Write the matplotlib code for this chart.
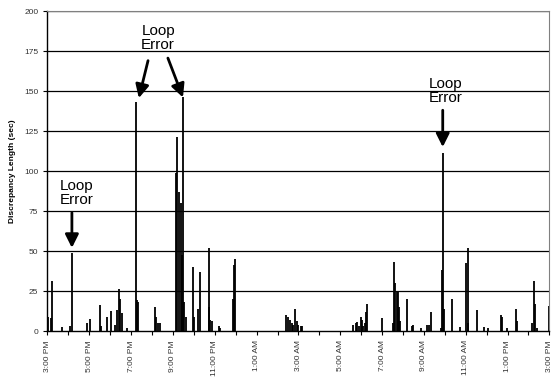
import matplotlib.pyplot as plt
import numpy as np

plt.rcParams['font.family'] = ['Liberation Sans', 'DejaVu Sans']

# time of each discrepancy, in hours after 3:00 PM, and its length in seconds
hours = [0.02, 0.19, 0.24, 0.68, 1.10, 1.16, 1.90, 2.05, 2.50, 2.56, 2.87, 3.03,
         3.23, 3.31, 3.40, 3.47, 3.55, 3.79, 4.24, 4.30, 4.34, 5.14, 5.19, 5.31,
         5.38, 6.13, 6.18, 6.30, 6.38, 6.43, 6.46, 6.55, 6.62, 6.97, 7.02, 7.21,
         7.28, 7.71, 7.74, 7.79, 7.86, 8.18, 8.25, 8.88, 8.93, 8.98,
         11.43, 11.51, 11.59, 11.67, 11.75, 11.86, 11.91, 11.99, 12.10, 12.18,
         14.62, 14.75, 14.81, 14.90, 14.97, 15.03, 15.10, 15.16, 15.22, 15.29,
         16.02, 16.53, 16.58, 16.64, 16.71, 16.77, 16.82, 16.86, 17.17, 17.41,
         17.49, 17.84, 18.16, 18.22, 18.35, 18.80, 18.87, 18.90, 18.97, 19.35,
         19.72, 20.02, 20.09, 20.13, 20.52, 20.87, 21.07, 21.68, 21.74, 21.98,
         22.38, 22.43, 23.17, 23.24, 23.30, 23.43, 23.98]
lengths = [8.5, 8, 31, 2.5, 3, 48.6, 5, 7.5, 16, 3, 9, 12.5,
           4, 13, 26, 20, 11, 2, 143, 19.4, 18, 15, 9, 5,
           5, 98.5, 121, 87, 80, 47.5, 146, 18, 9, 40, 9, 14,
           37, 52, 15, 7, 6, 3, 2, 20, 41, 45,
           10, 9, 7, 5, 4, 13.5, 6, 4, 3, 3,
           4, 5, 5.5, 3, 9, 7, 3, 5, 12, 17,
           8, 5, 43, 30, 24.5, 24.5, 15, 6, 20, 3,
           4, 2, 4, 4, 11.7, 2, 38, 111, 13.7, 20,
           2.5, 42.7, 5, 52, 13, 2.5, 2, 10, 8.5, 2,
           14, 6, 5, 31, 17, 2, 15.5]

tick_labels = ['3:00 PM', '5:00 PM', '7:00 PM', '9:00 PM', '11:00 PM', '1:00 AM',
               '3:00 AM', '5:00 AM', '7:00 AM', '9:00 AM', '11:00 AM', '1:00 PM',
               '3:00 PM']

fig = plt.figure(figsize=(5.58, 3.81), dpi=100)
ax = fig.add_axes([0.085, 0.131, 0.8996, 0.840])

# horizontal grid lines
for v in range(25, 201, 25):
    ax.axhline(v, color='black', lw=0.9, zorder=1)

ax.vlines(hours, 0, lengths, color='black', lw=1.3, zorder=2)

ax.set_xlim(0, 24)
ax.set_ylim(0, 200)
ax.set_yticks(range(0, 201, 25))
ax.set_xticks(np.arange(0, 25, 2))
ax.set_xticks(np.arange(1, 24, 2), minor=True)
ax.set_xticklabels(tick_labels, rotation=90, fontsize=6, color='#333333')
ax.tick_params(axis='y', labelsize=6, length=3, width=0.8, labelcolor='#333333')
ax.tick_params(axis='x', which='both', length=3, width=0.8)
ax.set_ylabel('Discrepancy Length (sec)', fontsize=6, fontweight='bold', labelpad=6)

for side in ['top', 'right']:
    ax.spines[side].set_color('#808080')
ax.spines['left'].set_linewidth(1.0)
ax.spines['bottom'].set_linewidth(1.0)

# loop error annotations
arrow = dict(arrowstyle='-|>', color='black', lw=2, mutation_scale=20, shrinkA=0, shrinkB=0)
ax.text(5.29, 183, 'Loop\nError', ha='center', va='center', fontsize=11, linespacing=1.0)
ax.annotate('', xy=(4.37, 145.6), xytext=(4.81, 169), arrowprops=arrow)
ax.annotate('', xy=(6.48, 146), xytext=(5.76, 170.6), arrowprops=arrow)

ax.text(1.41, 86, 'Loop\nError', ha='center', va='center', fontsize=11, linespacing=1.0)
ax.annotate('', xy=(1.17, 52), xytext=(1.17, 74), arrowprops=arrow)

ax.text(19.03, 150, 'Loop\nError', ha='center', va='center', fontsize=11, linespacing=1.0)
ax.annotate('', xy=(18.9, 115), xytext=(18.9, 138), arrowprops=arrow)

plt.savefig('out.png', dpi=100)
